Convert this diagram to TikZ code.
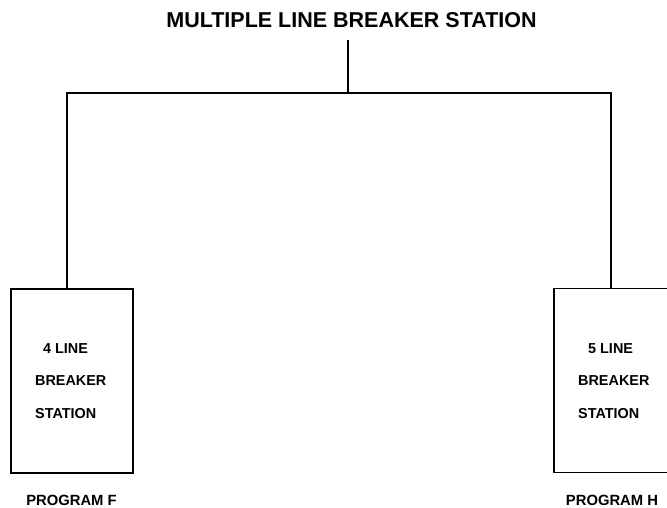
\documentclass[tikz,border=0pt]{standalone}
\usepackage{fontspec}
\setmainfont{Liberation Sans}
\begin{document}
\begin{tikzpicture}[x=1pt,y=-1pt,
  line/.style={line width=1.4pt,draw=black},
  stationbox/.style={draw=black,line width=1.4pt,minimum width=122pt,minimum height=184pt,inner sep=0pt},
  boxtext/.style={font=\fontsize{14.4pt}{16pt}\bfseries\selectfont,inner sep=0pt,anchor=west},
  labeltext/.style={font=\fontsize{14.8pt}{16pt}\bfseries\selectfont,inner sep=0pt},
  titletext/.style={font=\fontsize{21.5pt}{24pt}\bfseries\selectfont,inner sep=0pt}]
\clip (0,0) rectangle (667,508);
\fill[white] (0,0) rectangle (667,508);
% title
\node[titletext] (title) at (351.5,20) {MULTIPLE LINE BREAKER STATION};
% boxes
\node[stationbox] (lbox) at (72,381) {};
\node[stationbox] (rbox) at (615,380.5) {};
% box texts
\node[boxtext] (l1) at (43,349) {4 LINE};
\node[boxtext] (l2) at (35,381) {BREAKER};
\node[boxtext] (l3) at (35,414) {STATION};
\node[boxtext] (r1) at (588,349) {5 LINE};
\node[boxtext] (r2) at (578,381) {BREAKER};
\node[boxtext] (r3) at (578,414) {STATION};
% labels
\node[labeltext] (pf) at (71.5,500) {PROGRAM F};
\node[labeltext] (ph) at (612,500) {PROGRAM H};
% connectors
\coordinate (j) at (348,93);
\coordinate (top) at (348,40);
\coordinate (lc) at (67,93);
\coordinate (rc) at (611,93);
\draw[line] (top) -- (j);
\draw[line] (lc |- lbox.north) -- (lc) -- (rc) -- (rc |- rbox.north);
\end{tikzpicture}
\end{document}
